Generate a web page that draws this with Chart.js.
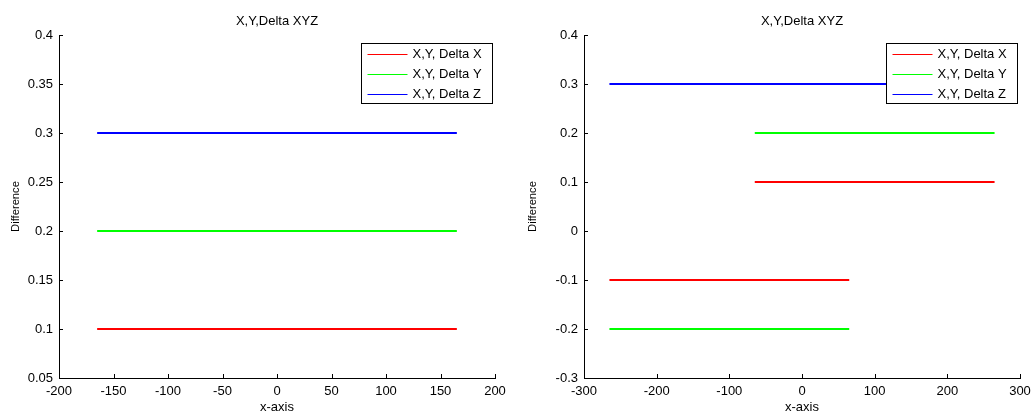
<!DOCTYPE html>
<html><head><meta charset="utf-8">
<script src="https://cdn.jsdelivr.net/npm/chart.js@4.4.0/dist/chart.umd.min.js"></script>
<style>body{margin:0;background:#fff;} .w{position:absolute;top:0;width:517px;height:413px}</style>
</head><body>
<div class="w" style="left:0"><canvas id="c1" width="517" height="413"></canvas></div>
<div class="w" style="left:517px"><canvas id="c2" width="517" height="413"></canvas></div>
<script>
const chartTitle = 'X,Y,Delta XYZ';
const xAxisTitle = 'x-axis';
const yAxisTitle = 'Difference';
const seriesNames = ['X,Y, Delta X', 'X,Y, Delta Y', 'X,Y, Delta Z'];
const seriesColors = ['#ff0000', '#00ff00', '#0000ff'];

// left panel
const leftXTicks = [-200, -150, -100, -50, 0, 50, 100, 150, 200];
const leftYTicks = [0.05, 0.1, 0.15, 0.2, 0.25, 0.3, 0.35, 0.4];
const leftSpan = [-165, 165];
const leftDeltaX = [0.1, 0.1];
const leftDeltaY = [0.2, 0.2];
const leftDeltaZ = [0.3, 0.3];

// right panel
const rightXTicks = [-300, -200, -100, 0, 100, 200, 300];
const rightYTicks = [-0.3, -0.2, -0.1, 0, 0.1, 0.2, 0.3, 0.4];
const rightSpanLow = [-265, 65];
const rightSpanHigh = [-65, 265];
const rightSpanFull = [-265, 265];
const rightDeltaXLow = [-0.1, -0.1];
const rightDeltaXHigh = [0.1, 0.1];
const rightDeltaYLow = [-0.2, -0.2];
const rightDeltaYHigh = [0.2, 0.2];
const rightDeltaZ = [0.3, 0.3];

const FONT = "'Liberation Sans', Arial, sans-serif";
Chart.defaults.font.family = FONT;
Chart.defaults.font.size = 13;
Chart.defaults.color = '#000';

const zip = (xs, ys) => xs.map((x, i) => ({x: x, y: ys[i]}));
const ds = (xs, ys, ci) => ({
  label: seriesNames[ci], data: zip(xs, ys), borderColor: seriesColors[ci],
  borderWidth: 2, pointRadius: 0, fill: false, tension: 0
});

const decorPlugin = {
  id: 'decor',
  afterDraw(chart) {
    const ctx = chart.ctx, ca = chart.chartArea;
    ctx.save();
    // inward ticks
    ctx.strokeStyle = '#000'; ctx.lineWidth = 1;
    const xs = chart.scales.x, ys = chart.scales.y;
    xs.ticks.forEach(t => {
      const p = Math.round(xs.getPixelForValue(t.value)) + 0.5;
      ctx.beginPath(); ctx.moveTo(p, ca.bottom); ctx.lineTo(p, ca.bottom - 4); ctx.stroke();
    });
    ys.ticks.forEach(t => {
      const p = Math.round(ys.getPixelForValue(t.value)) + 0.5;
      ctx.beginPath(); ctx.moveTo(ca.left, p); ctx.lineTo(ca.left + 4, p); ctx.stroke();
    });
    // title
    ctx.fillStyle = '#000';
    ctx.font = "13px " + FONT;
    ctx.textAlign = 'center'; ctx.textBaseline = 'middle';
    ctx.fillText(chartTitle, (ca.left + ca.right) / 2, 21);
    // legend
    const w = 131, h = 60;
    const bx = Math.round(ca.right - 3 - w) + 0.5, by = Math.round(ca.top + 8) + 0.5;
    ctx.fillStyle = '#fff';
    ctx.fillRect(bx, by, w, h);
    ctx.strokeStyle = '#000';
    ctx.strokeRect(bx, by, w, h);
    ctx.textAlign = 'left';
    seriesNames.forEach((n, i) => {
      const y = by + 10 + i * 20;
      ctx.strokeStyle = seriesColors[i];
      ctx.beginPath(); ctx.moveTo(bx + 6, Math.round(y) + 0.5); ctx.lineTo(bx + 46, Math.round(y) + 0.5); ctx.stroke();
      ctx.fillStyle = '#000';
      ctx.fillText(n, bx + 51, y + 0.5);
    });
    ctx.restore();
  }
};

function makeChart(id, datasets, xTicks, yTicks, yWidth, padRight) {
  const fix = arr => scale => { scale.ticks = arr.map(v => ({value: v})); };
  return new Chart(document.getElementById(id), {
    type: 'line',
    data: {datasets: datasets},
    options: {
      responsive: false, animation: false,
      layout: {padding: {left: 0, top: 35, right: padRight, bottom: 0}},
      plugins: {legend: {display: false}, tooltip: {enabled: false}, title: {display: false}},
      scales: {
        x: {
          type: 'linear', min: xTicks[0], max: xTicks[xTicks.length - 1],
          afterBuildTicks: fix(xTicks),
          afterFit: s => { s.height = 35; s.paddingLeft = 0; s.paddingRight = 0; },
          grid: {display: false, drawTicks: false},
          border: {display: true, color: '#000', width: 1},
          ticks: {padding: 6, color: '#000', maxRotation: 0, autoSkip: false, callback: v => String(v)},
          title: {display: true, text: xAxisTitle, color: '#000', padding: {top: 0, bottom: -2}}
        },
        y: {
          type: 'linear', min: yTicks[0], max: yTicks[yTicks.length - 1],
          afterBuildTicks: fix(yTicks),
          afterFit: s => { s.width = yWidth; s.paddingTop = 0; s.paddingBottom = 0; },
          grid: {display: false, drawTicks: false},
          border: {display: true, color: '#000', width: 1},
          ticks: {padding: 6, color: '#000', autoSkip: false, callback: v => String(v)},
          title: {display: true, text: yAxisTitle, color: '#000', font: {size: 11.2}, padding: {top: 9, bottom: 0}}
        }
      }
    },
    plugins: [decorPlugin]
  });
}

makeChart('c1', [
  ds(leftSpan, leftDeltaX, 0),
  ds(leftSpan, leftDeltaY, 1),
  ds(leftSpan, leftDeltaZ, 2)
], leftXTicks, leftYTicks, 59, 22);

makeChart('c2', [
  ds(rightSpanLow, rightDeltaXLow, 0),
  ds(rightSpanHigh, rightDeltaXHigh, 0),
  ds(rightSpanLow, rightDeltaYLow, 1),
  ds(rightSpanHigh, rightDeltaYHigh, 1),
  ds(rightSpanFull, rightDeltaZ, 2)
], rightXTicks, rightYTicks, 67, 14);
</script>
</body></html>
